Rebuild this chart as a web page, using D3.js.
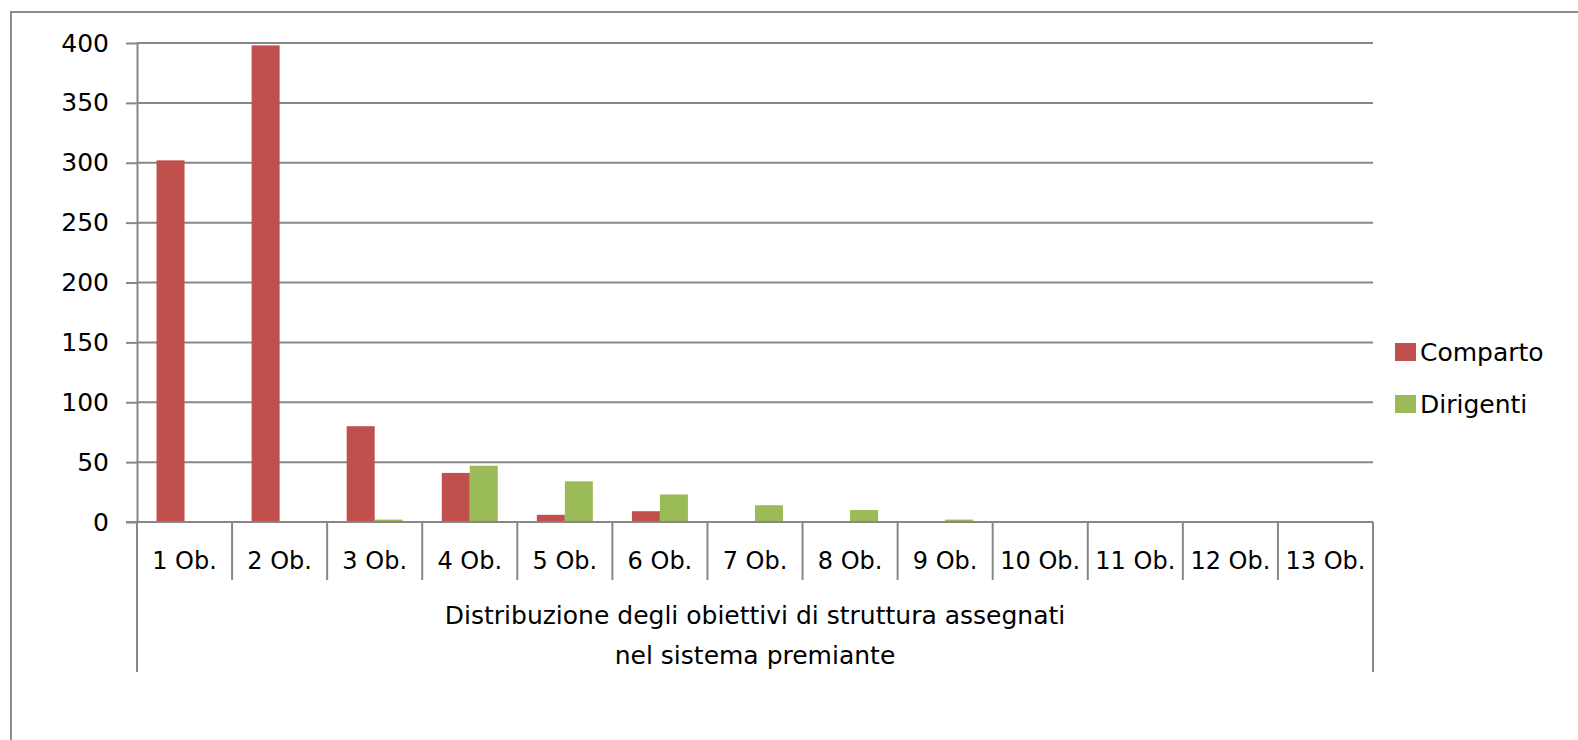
<!DOCTYPE html>
<html><head><meta charset="utf-8">
<script src="https://cdn.jsdelivr.net/npm/d3@7"></script>
<style>html,body{margin:0;padding:0;background:#fff;overflow:hidden}</style>
</head><body>
<svg id="chart" width="1578" height="740"></svg>
<script>
const categories = ["1 Ob.","2 Ob.","3 Ob.","4 Ob.","5 Ob.","6 Ob.","7 Ob.","8 Ob.","9 Ob.","10 Ob.","11 Ob.","12 Ob.","13 Ob."];
const comparto  = [302, 398, 80, 41, 6, 9, 0, 0, 0, 0, 0, 0, 0];
const dirigenti = [0, 0, 2, 47, 34, 23, 14, 10, 2, 0, 0, 0, 0];
const seriesNames = ["Comparto","Dirigenti"];
const seriesColors = ["#C0504D","#9BBB59"];
const yTicks = [0,50,100,150,200,250,300,350,400];
const axisTitle = ["Distribuzione degli obiettivi di struttura assegnati","nel sistema premiante"];

const svg = d3.select("#chart");
const FONT = "DejaVu Sans, Verdana, sans-serif";
const GRAY = "#878787";
const L = 137, R = 1373, T = 43, B = 522;

// outer chart border
svg.append("rect").attr("x",11).attr("y",12).attr("width",1600).attr("height",800)
  .attr("fill","none").attr("stroke","#8c8c8c").attr("stroke-width",2);

const x = d3.scaleBand().domain(categories).range([L,R]).padding(0);
const y = d3.scaleLinear().domain([0,400]).range([B,T]);

// gridlines
svg.append("g").selectAll("line").data(yTicks.filter(d=>d>0)).join("line")
  .attr("x1",L).attr("x2",R).attr("y1",d=>y(d)).attr("y2",d=>y(d))
  .attr("stroke",GRAY).attr("stroke-width",2);

// y axis
const yAxis = d3.axisLeft(y).tickValues(yTicks).tickSize(11).tickPadding(17).tickSizeOuter(0);
const gy = svg.append("g").attr("transform",`translate(${L},0)`).call(yAxis);
gy.select(".domain").attr("stroke",GRAY).attr("stroke-width",2);
gy.selectAll(".tick line").attr("stroke",GRAY).attr("stroke-width",2);
gy.selectAll(".tick text").attr("font-family",FONT).attr("font-size",25).attr("fill","#000");

// bars
const bw = x.bandwidth();
const barW = 28;
const off = (bw - 2*barW)/2;
const series = [comparto, dirigenti];
series.forEach((vals,si)=>{
  svg.append("g").selectAll("rect").data(categories).join("rect")
    .attr("x",(c)=>x(c)+off+si*barW)
    .attr("width",barW)
    .attr("y",(c,i)=>y(vals[i]))
    .attr("height",(c,i)=>B - y(vals[i]))
    .attr("fill",seriesColors[si]);
});

// x axis baseline
svg.append("line").attr("x1",L-11).attr("x2",R).attr("y1",B).attr("y2",B)
  .attr("stroke",GRAY).attr("stroke-width",2);

// category separators
const seps = categories.map(c=>x(c)).concat([R]);
svg.append("g").selectAll("line").data(seps).join("line")
  .attr("x1",d=>d).attr("x2",d=>d).attr("y1",B)
  .attr("y2",(d,i)=> (i===0||i===seps.length-1) ? 672 : 580)
  .attr("stroke",GRAY).attr("stroke-width",2);

// category labels
svg.append("g").selectAll("text").data(categories).join("text")
  .attr("x",c=>x(c)+bw/2).attr("y",569)
  .attr("text-anchor","middle").attr("font-family",FONT).attr("font-size",24)
  .attr("fill","#000").text(d=>d);

// group axis title
svg.append("g").selectAll("text").data(axisTitle).join("text")
  .attr("x",(L+R)/2).attr("y",(d,i)=>624+i*40)
  .attr("text-anchor","middle").attr("font-family",FONT).attr("font-size",25)
  .attr("fill","#000").text(d=>d);

// legend
const lg = svg.append("g");
seriesNames.forEach((n,i)=>{
  const top = 343 + i*52;
  lg.append("rect").attr("x",1395).attr("y",top).attr("width",21).attr("height",18).attr("fill",seriesColors[i]);
  lg.append("text").attr("x",1420).attr("y",top+18).attr("font-family",FONT).attr("font-size",25)
    .attr("fill","#000").text(n);
});
</script>
</body></html>
